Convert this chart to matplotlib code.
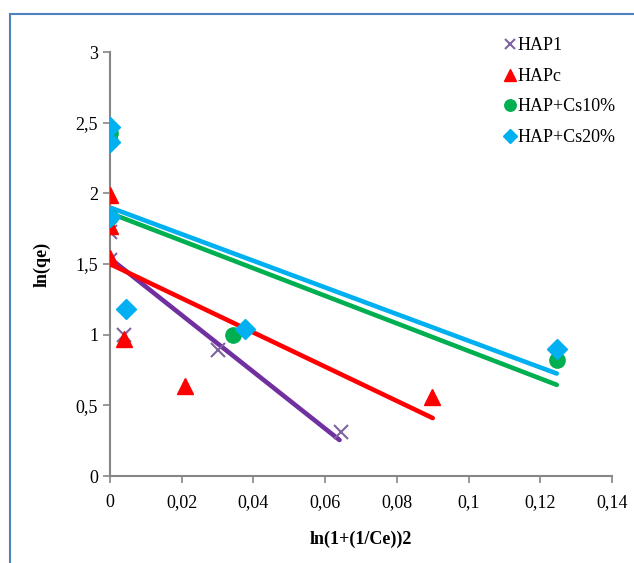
import matplotlib
matplotlib.use("Agg")
import matplotlib.pyplot as plt
from matplotlib.patches import Rectangle
from matplotlib.ticker import FuncFormatter

plt.rcParams['font.family'] = ['Liberation Serif', 'DejaVu Serif']

# data
hap1_x = [0.0, 0.0, 0.0039, 0.030, 0.0645]
hap1_y = [1.73, 1.53, 1.00, 0.89, 0.31]
hap1_fit_x = [0.0, 0.064]
hap1_fit_y = [1.54, 0.255]

hapc_x = [0.0, 0.0, 0.0, 0.004, 0.021, 0.0898]
hapc_y = [1.99, 1.77, 1.54, 0.97, 0.64, 0.56]
hapc_fit_x = [0.0, 0.090]
hapc_fit_y = [1.50, 0.41]

cs10_x = [0.0, 0.0, 0.0, 0.0343, 0.1246]
cs10_y = [2.43, 2.37, 1.83, 1.00, 0.82]
cs10_fit_x = [0.0, 0.1246]
cs10_fit_y = [1.86, 0.645]

cs20_x = [0.0, 0.0, 0.0, 0.0045, 0.0376, 0.1246]
cs20_y = [2.47, 2.36, 1.83, 1.18, 1.04, 0.90]
cs20_fit_x = [0.0, 0.1246]
cs20_fit_y = [1.90, 0.725]

fig = plt.figure(figsize=(6.34, 5.63), dpi=100)
ax = fig.add_axes([0.1735, 0.1545, 0.7918, 0.7531])

# figure frame
fig.patches.append(Rectangle((0.0158, -0.05), 1.1, 1.025, transform=fig.transFigure,
                             fill=False, edgecolor='#4F81BD', linewidth=1.5))

ax.plot(hap1_x, hap1_y, 'x', color='#8064A2', markersize=10, markeredgewidth=1.5,
        label='HAP1', zorder=3)
ax.plot(hapc_x, hapc_y, '^', color='#FF0000', markersize=11, label='HAPc', zorder=3)
ax.plot(cs10_x, cs10_y, 'o', color='#00B050', markersize=11, label='HAP+Cs10%', zorder=3)
ax.plot(cs20_x, cs20_y, 'D', color='#00B0F0', markersize=10, label='HAP+Cs20%', zorder=4)

ax.plot(hap1_fit_x, hap1_fit_y, color='#7030A0', lw=3.3, solid_capstyle='round', zorder=2)
ax.plot(hapc_fit_x, hapc_fit_y, color='#FF0000', lw=3.3, solid_capstyle='round', zorder=2)
ax.plot(cs10_fit_x, cs10_fit_y, color='#00B050', lw=3.3, solid_capstyle='round', zorder=2)
ax.plot(cs20_fit_x, cs20_fit_y, color='#00B0F0', lw=3.3, solid_capstyle='round', zorder=2)

ax.set_xlim(0, 0.14)
ax.set_ylim(0, 3)
ax.set_xticks([0, 0.02, 0.04, 0.06, 0.08, 0.1, 0.12, 0.14])
ax.set_yticks([0, 0.5, 1, 1.5, 2, 2.5, 3])
comma = FuncFormatter(lambda v, p: ('%g' % round(v, 4)).replace('.', ','))
ax.xaxis.set_major_formatter(comma)
ax.yaxis.set_major_formatter(comma)

for s in ['top', 'right']:
    ax.spines[s].set_visible(False)
for s in ['left', 'bottom']:
    ax.spines[s].set_color('#868686')
    ax.spines[s].set_linewidth(1.5)
ax.tick_params(colors='#868686', labelcolor='black', labelsize=13, length=5, width=1.2)
ax.tick_params(axis='x', pad=8)

ax.set_xlabel('ln(1+(1/Ce))2', fontsize=13, fontweight='bold', labelpad=14)
ax.set_ylabel('ln(qe)', fontsize=13, fontweight='bold', labelpad=18)

ax.legend(loc='upper right', bbox_to_anchor=(1.04, 1.073), frameon=False, fontsize=13,
          handlelength=0.6, handletextpad=0.1, labelspacing=0.75, markerscale=0.75)

fig.savefig('out.png', dpi=100)
